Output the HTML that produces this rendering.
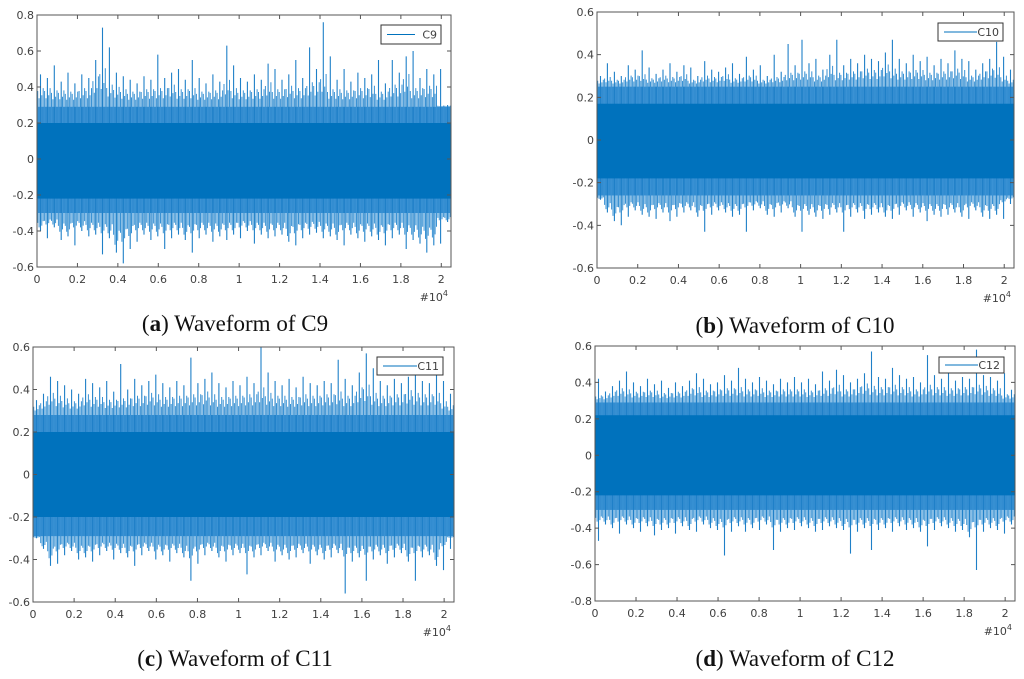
<!DOCTYPE html>
<html><head><meta charset="utf-8"><style>
body{margin:0;background:#fff;width:1024px;height:679px;overflow:hidden}
svg{display:block}
.tk{font-family:"DejaVu Sans","Liberation Sans",sans-serif;font-size:11px;fill:#404040}
.cap{font-family:"Liberation Serif",serif;font-size:23px;fill:#111}
</style></head><body>
<svg id="fig" width="1024" height="679" viewBox="0 0 1024 679"></svg>
<script>
// ---- data ----
const xTicks = [0,0.2,0.4,0.6,0.8,1,1.2,1.4,1.6,1.8,2];
const xTickLabels = ["0","0.2","0.4","0.6","0.8","1","1.2","1.4","1.6","1.8","2"];
const yTicksA = [-0.6,-0.4,-0.2,0,0.2,0.4,0.6,0.8];
const yTicksB = [-0.6,-0.4,-0.2,0,0.2,0.4,0.6];
const yTicksC = [-0.6,-0.4,-0.2,0,0.2,0.4,0.6];
const yTicksD = [-0.8,-0.6,-0.4,-0.2,0,0.2,0.4,0.6];
const seriesNames = ["C9","C10","C11","C12"];
const c9Upper = [0.47,0.45,0.52,0.43,0.48,0.42,0.47,0.45,0.55,0.73,0.62,0.48,0.46,0.44,0.42,0.46,0.44,0.58,0.45,0.48,0.5,0.44,0.55,0.45,0.42,0.47,0.43,0.63,0.52,0.45,0.43,0.47,0.44,0.53,0.5,0.44,0.47,0.55,0.45,0.62,0.5,0.76,0.57,0.44,0.5,0.43,0.48,0.45,0.47,0.55,0.42,0.55,0.48,0.57,0.6,0.45,0.5,0.47,0.5,0.3];
const c9Lower = [-0.4,-0.44,-0.38,-0.45,-0.43,-0.48,-0.4,-0.43,-0.42,-0.53,-0.44,-0.52,-0.58,-0.5,-0.46,-0.42,-0.45,-0.43,-0.5,-0.44,-0.42,-0.45,-0.52,-0.44,-0.42,-0.46,-0.43,-0.45,-0.42,-0.44,-0.4,-0.47,-0.42,-0.44,-0.43,-0.42,-0.46,-0.48,-0.44,-0.42,-0.41,-0.44,-0.43,-0.45,-0.48,-0.42,-0.44,-0.46,-0.43,-0.45,-0.48,-0.44,-0.42,-0.5,-0.45,-0.47,-0.52,-0.48,-0.47,-0.35];
const c10Upper = [0.3,0.36,0.32,0.3,0.35,0.33,0.42,0.34,0.31,0.33,0.36,0.32,0.35,0.34,0.3,0.37,0.33,0.32,0.34,0.36,0.31,0.39,0.33,0.35,0.3,0.4,0.32,0.45,0.35,0.47,0.36,0.38,0.33,0.4,0.47,0.35,0.38,0.36,0.4,0.38,0.37,0.41,0.47,0.38,0.36,0.4,0.37,0.39,0.35,0.38,0.36,0.42,0.38,0.37,0.33,0.36,0.38,0.46,0.39,0.33];
const c10Lower = [-0.28,-0.34,-0.38,-0.4,-0.36,-0.33,-0.35,-0.36,-0.37,-0.34,-0.38,-0.36,-0.34,-0.33,-0.36,-0.43,-0.35,-0.33,-0.34,-0.36,-0.35,-0.43,-0.33,-0.32,-0.35,-0.36,-0.34,-0.32,-0.36,-0.43,-0.35,-0.36,-0.37,-0.35,-0.34,-0.43,-0.36,-0.34,-0.37,-0.35,-0.34,-0.36,-0.37,-0.35,-0.33,-0.36,-0.34,-0.38,-0.35,-0.36,-0.35,-0.34,-0.36,-0.37,-0.33,-0.36,-0.37,-0.35,-0.37,-0.3];
const c11Upper = [0.35,0.38,0.46,0.44,0.42,0.4,0.38,0.45,0.43,0.41,0.44,0.39,0.52,0.4,0.45,0.42,0.44,0.47,0.43,0.41,0.44,0.42,0.55,0.43,0.45,0.48,0.43,0.41,0.44,0.42,0.46,0.43,0.6,0.48,0.44,0.42,0.45,0.41,0.46,0.43,0.42,0.44,0.43,0.54,0.45,0.42,0.48,0.57,0.5,0.44,0.42,0.45,0.43,0.46,0.47,0.44,0.43,0.48,0.44,0.38];
const c11Lower = [-0.3,-0.35,-0.43,-0.42,-0.38,-0.36,-0.4,-0.39,-0.41,-0.38,-0.36,-0.4,-0.37,-0.39,-0.43,-0.38,-0.36,-0.4,-0.38,-0.41,-0.37,-0.39,-0.5,-0.42,-0.38,-0.36,-0.39,-0.41,-0.38,-0.37,-0.47,-0.39,-0.38,-0.36,-0.41,-0.38,-0.4,-0.39,-0.37,-0.42,-0.38,-0.4,-0.39,-0.37,-0.56,-0.41,-0.39,-0.5,-0.4,-0.38,-0.42,-0.39,-0.37,-0.41,-0.5,-0.39,-0.38,-0.43,-0.45,-0.35];
const c12Upper = [0.42,0.35,0.38,0.41,0.46,0.4,0.38,0.42,0.39,0.41,0.37,0.4,0.38,0.41,0.45,0.42,0.39,0.4,0.44,0.41,0.48,0.42,0.4,0.43,0.41,0.39,0.42,0.4,0.43,0.4,0.42,0.39,0.46,0.41,0.47,0.44,0.4,0.42,0.45,0.57,0.43,0.42,0.48,0.44,0.42,0.43,0.4,0.55,0.44,0.42,0.45,0.41,0.43,0.42,0.58,0.44,0.43,0.41,0.45,0.36];
const c12Lower = [-0.47,-0.38,-0.4,-0.43,-0.38,-0.4,-0.42,-0.39,-0.44,-0.41,-0.4,-0.43,-0.39,-0.41,-0.42,-0.38,-0.4,-0.41,-0.55,-0.42,-0.39,-0.42,-0.4,-0.41,-0.38,-0.52,-0.42,-0.4,-0.41,-0.39,-0.4,-0.42,-0.41,-0.39,-0.4,-0.41,-0.54,-0.42,-0.4,-0.52,-0.41,-0.4,-0.42,-0.39,-0.41,-0.4,-0.42,-0.5,-0.41,-0.39,-0.4,-0.42,-0.41,-0.45,-0.63,-0.42,-0.4,-0.41,-0.43,-0.38];
const coreHigh = [0.2,0.17,0.2,0.22];
const coreLow = [-0.22,-0.18,-0.2,-0.22];
const bandHigh = [0.29,0.25,0.28,0.29];
const bandLow = [-0.3,-0.26,-0.29,-0.3];
const xMax = 2.048;

const NS="http://www.w3.org/2000/svg";
const fig=document.getElementById('fig');
function mk(tag,attrs,parent){const e=document.createElementNS(NS,tag);for(const k in attrs)e.setAttribute(k,attrs[k]);(parent||fig).appendChild(e);return e;}

const panels=[
 {L:37,R:451,T:15,B:267,yt:yTicksA,up:c9Upper,lo:c9Lower,leg:[381,25,60,19],cap:["a"," Waveform of C9"],cx:235,cy:331},
 {L:597,R:1014,T:12,B:268,yt:yTicksB,up:c10Upper,lo:c10Lower,leg:[938,23,65,18],cap:["b"," Waveform of C10"],cx:795,cy:333},
 {L:33,R:454,T:347,B:602,yt:yTicksC,up:c11Upper,lo:c11Lower,leg:[377,357,66,18],cap:["c"," Waveform of C11"],cx:235,cy:666},
 {L:595,R:1015,T:346,B:601,yt:yTicksD,up:c12Upper,lo:c12Lower,leg:[939,357,65,16],cap:["d"," Waveform of C12"],cx:795,cy:666}
];
const letters=["a","b","c","d"];
const subPos=[0.1,0.3,0.7,0.9];
const subMix=[0.55,0.3,0.4,0.65];
panels.forEach((p,i)=>{
  const g=mk('g',{});
  
  
  const y0=p.yt[0], y1=p.yt[p.yt.length-1];
  const X=v=>p.L+(v/xMax)*(p.R-p.L);
  const Y=v=>p.B-(v-y0)/(y1-y0)*(p.B-p.T);
  const band=mk('rect',{x:p.L,y:Y(bandHigh[i]),width:p.R-p.L,height:Y(bandLow[i])-Y(bandHigh[i]),fill:'#2a86cc'},g);
  
  
  const n=p.up.length;
  let d='', d2='';
  for(let k=0;k<n;k++){
    const xv=(k+0.5)/n*xMax;
    d+='M'+X(xv).toFixed(1)+' '+Y(p.up[k]).toFixed(1)+'V'+Y(p.lo[k]).toFixed(1);
    const nb=p.up[(k+1)%n], nl=p.lo[(k+1)%n];
    subPos.forEach((s,j)=>{
      const m=subMix[j];
      const u=bandHigh[i]+(Math.min(p.up[k],nb)-bandHigh[i])*m;
      const l=bandLow[i]+(Math.max(p.lo[k],nl)-bandLow[i])*(1-m+0.1);
      const xs=X((k+s)/n*xMax).toFixed(1);
      d2+='M'+xs+' '+Y(u).toFixed(1)+'V'+Y(l).toFixed(1);
    });
  }
  const sp2=mk('path',{d:d2,stroke:'#3a92d4',"stroke-width":1,fill:'none'},g);
  
  
  const sp=mk('path',{d:d,stroke:'#1f80c8',"stroke-width":1.1,fill:'none'},g);
  
  
  const core=mk('rect',{x:p.L,y:Y(coreHigh[i]),width:p.R-p.L,height:Y(coreLow[i])-Y(coreHigh[i]),fill:'#0072BD'},g);
  
  
  const box=mk('rect',{x:p.L,y:p.T,width:p.R-p.L,height:p.B-p.T,fill:'none',stroke:'#555',"stroke-width":1},g);
  
  
  let td='';
  xTicks.forEach(v=>{const x=X(v);td+=`M${x} ${p.B}v-4M${x} ${p.T}v4`;});
  p.yt.forEach(v=>{const y=Y(v);td+=`M${p.L} ${y}h4M${p.R} ${y}h-4`;});
  mk('path',{d:td,stroke:'#555',"stroke-width":1},g);
  xTicks.forEach((v,k)=>{
    const t=mk('text',{x:X(v),y:p.B+16,"text-anchor":"middle",class:'tk'},g);
    t.textContent=xTickLabels[k];
    
    
  });
  p.yt.forEach(v=>{
    const t=mk('text',{x:p.L-3,y:Y(v)+4,"text-anchor":"end",class:'tk'},g);
    t.textContent=(Math.abs(v)<1e-9?"0":String(+v.toFixed(1)));
    
    
  });
  const ex=mk('text',{x:p.R-3,y:p.B+34,"text-anchor":"end",class:'tk'},g);
  ex.innerHTML='#10<tspan dy="-5" font-size="8">4</tspan>';
  
  
  const [lx,ly,lw,lh]=p.leg;
  const lg=mk('g',{},g);
  
  
  mk('rect',{x:lx,y:ly,width:lw,height:lh,fill:'#fff',stroke:'#333',"stroke-width":1},lg);
  mk('line',{x1:lx+6,x2:lx+lw-26,y1:ly+lh/2,y2:ly+lh/2,stroke:'#0072BD',"stroke-width":1},lg);
  const lt=mk('text',{x:lx+lw-4,y:ly+lh/2+4,"text-anchor":"end",class:'tk'},lg);
  lt.textContent=seriesNames[i];
  const c=mk('text',{x:p.cx,y:p.cy,"text-anchor":"middle",class:'cap'},g);
  c.innerHTML='(<tspan font-weight="bold">'+p.cap[0]+'</tspan>)'+p.cap[1];
  
  
});
</script>
</body></html>
